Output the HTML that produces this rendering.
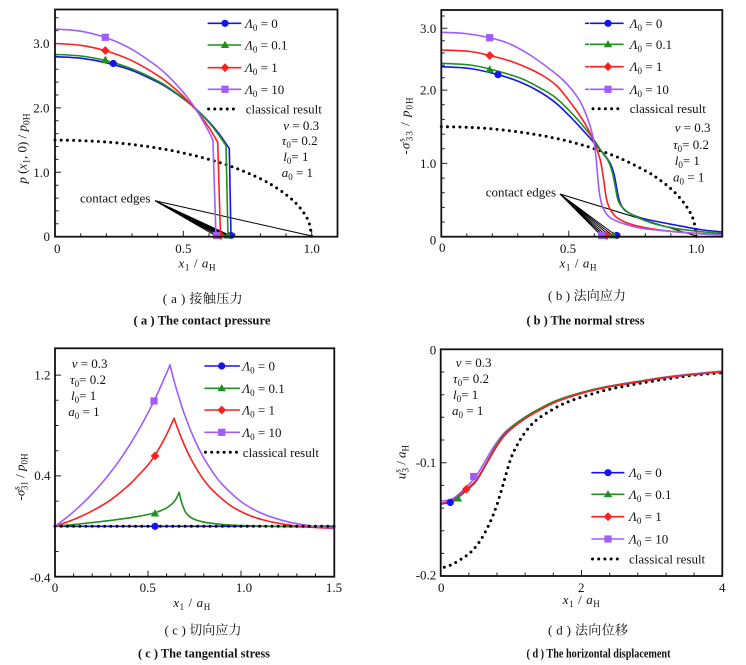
<!DOCTYPE html>
<html><head><meta charset="utf-8"><style>
html,body{margin:0;padding:0;background:#fff;}
svg{display:block;font-family:"Liberation Serif","Noto Serif CJK SC",serif;}
.fr{fill:none;stroke:#111;stroke-width:1.8}
.tk{fill:none;stroke:#222;stroke-width:1}
.s{fill:none;stroke-width:1.6;stroke-linejoin:round;stroke-linecap:round}
.dot{fill:none;stroke:#000;stroke-width:3;stroke-linecap:round;stroke-dasharray:0 6.2}
.ce{stroke:#000;stroke-width:1;fill:none}
text{font-size:13px;fill:#111}
.i{font-style:italic}
</style></head><body>
<svg id="cv" width="746" height="665" viewBox="0 0 746 665" xmlns="http://www.w3.org/2000/svg">
<defs>
<circle id="mc" r="3.6"/>
<polygon id="mt" points="0,-4.2 4.2,3 -4.2,3"/>
<polygon id="md" points="0,-4.4 4.4,0 0,4.4 -4.4,0"/>
<rect id="ms" x="-3.6" y="-3.6" width="7.2" height="7.2"/>
</defs>

<!-- ================= PANEL A ================= -->
<g>
<path class="tk" d="M55 236.7v-6M80.67 236.7v-3.5M106.33 236.7v-3.5M132 236.7v-3.5M157.67 236.7v-3.5M183.35 236.7v-6M209 236.7v-3.5M234.7 236.7v-3.5M260.4 236.7v-3.5M286 236.7v-3.5M311.7 236.7v-6
M55 236.7h6M55 172.3h6M55 107.9h6M55 43.5h6
M55 223.8h3.5M55 210.9h3.5M55 198.1h3.5M55 185.2h3.5M55 159.4h3.5M55 146.5h3.5M55 133.7h3.5M55 120.8h3.5M55 95h3.5M55 82.1h3.5M55 69.2h3.5M55 56.4h3.5M55 30.6h3.5M55 17.7h3.5"/>
<polyline class="dot sm" points="55,140.1 80.7,140.6 106.3,142 132,144.5 157.7,148.1 183.4,153 209,159.4 234.7,167.7 260.4,178.7 273.2,185.8 286,194.6 296.3,203.7 304,213.2 309.1,223 311.7,236.7"/>
<path class="ce" d="M155 200.7L216 236M155 200.7L219 236M155 200.7L222 236M155 200.7L225 236M155 200.7L228 236M155 200.7L231 236M155 200.7L311.7 236"/>
<polyline class="s sm" stroke="#1414f0" points="55,56.7 80.7,58.2 106.3,62.8 132,70.5 157.7,82.2 170.5,89.7 183.4,98.7 196.2,109.2 209,121.9 219.3,134.1 229.3,148.6"/>
<polyline class="s" stroke="#1414f0" points="229.3,148.6 231,236.7"/>
<polyline class="s sm" stroke="#1f8f1f" points="55,54.4 80.7,56 106.3,60.7 132,68.9 157.7,81 170.5,88.9 183.4,98.2 196.2,109.3 209,122.6 218,133.9 226,145.6"/>
<polyline class="s" stroke="#1f8f1f" points="226,145.6 228,236.7"/>
<polyline class="s sm" stroke="#ff1f1f" points="55,43.5 80.7,45.3 106.3,51 132,60.7 157.7,75.4 170.5,85 183.4,96.4 196.2,110.3 209,127.6 217.7,142.2"/>
<polyline class="s" stroke="#ff1f1f" points="217.7,142.2 220.5,236.7"/>
<polyline class="s sm" stroke="#a05cff" points="55,29 80.7,31.2 106.3,37.8 132,49.4 157.7,66.9 170.5,78.4 183.4,92.4 196.2,109.7 209,131.9 212.9,140"/>
<polyline class="s" stroke="#a05cff" points="212.9,140 216,236.7"/>
<use href="#mc" x="113.3" y="63.5" fill="#1414f0"/>
<use href="#mt" x="105.3" y="60" fill="#1f8f1f"/>
<use href="#md" x="105.3" y="50.5" fill="#ff1f1f"/>
<use href="#ms" x="105.3" y="37.3" fill="#a05cff"/>
<use href="#mc" x="231" y="235.5" fill="#1414f0"/>
<use href="#mt" x="228" y="235.5" fill="#1f8f1f"/>
<use href="#md" x="220.7" y="235.5" fill="#ff1f1f"/>
<use href="#ms" x="216.5" y="235.5" fill="#a05cff"/>
<rect class="fr" x="55" y="9.5" width="282.5" height="227.2"/>
<path class="s" stroke="#1414f0" d="M208.3 23.3H240.7"/><use href="#mc" x="225" y="23.3" fill="#1414f0"/>
<path class="s" stroke="#1f8f1f" d="M208.3 45H240.7"/><use href="#mt" x="225" y="45" fill="#1f8f1f"/>
<path class="s" stroke="#ff1f1f" d="M208.3 67.7H240.7"/><use href="#md" x="225" y="67.7" fill="#ff1f1f"/>
<path class="s" stroke="#a05cff" d="M208.3 89.3H240.7"/><use href="#ms" x="225" y="89.3" fill="#a05cff"/>
<path class="dot" d="M208.6 109H239"/>
<text x="245" y="27.8"><tspan class="i">Λ</tspan><tspan font-size="9" dy="3">0</tspan><tspan dy="-3"> = 0</tspan></text>
<text x="245" y="49.5"><tspan class="i">Λ</tspan><tspan font-size="9" dy="3">0</tspan><tspan dy="-3"> = 0.1</tspan></text>
<text x="245" y="72.2"><tspan class="i">Λ</tspan><tspan font-size="9" dy="3">0</tspan><tspan dy="-3"> = 1</tspan></text>
<text x="245" y="93.8"><tspan class="i">Λ</tspan><tspan font-size="9" dy="3">0</tspan><tspan dy="-3"> = 10</tspan></text>
<text x="245.7" y="113.5">classical result</text>
<text x="283.3" y="130"><tspan class="i">ν</tspan> = 0.3</text>
<text x="281.7" y="145"><tspan class="i">τ</tspan><tspan font-size="9" dy="3">0</tspan><tspan dy="-3">= 0.2</tspan></text>
<text x="283.3" y="161"><tspan class="i">l</tspan><tspan font-size="9" dy="3">0</tspan><tspan dy="-3">= 1</tspan></text>
<text x="281.7" y="177"><tspan class="i">a</tspan><tspan font-size="9" dy="3">0</tspan><tspan dy="-3"> = 1</tspan></text>
<text x="80" y="202.5">contact edges</text>
<g text-anchor="end"><text x="49.5" y="47.8">3.0</text><text x="49.5" y="112.4">2.0</text><text x="49.5" y="176.8">1.0</text><text x="50" y="241">0</text></g>
<g text-anchor="middle"><text x="57.3" y="252.8">0</text><text x="183.4" y="252.8">0.5</text><text x="311.7" y="252.8">1.0</text></g>
<text x="197" y="267.5" text-anchor="middle" textLength="37"><tspan class="i">x</tspan><tspan font-size="9" dy="3">1</tspan><tspan dy="-3"> / </tspan><tspan class="i">a</tspan><tspan font-size="9" dy="3">H</tspan></text>
<text transform="translate(22,148.5) rotate(-90)" x="0" y="4.5" text-anchor="middle" font-size="14"><tspan class="i">p</tspan> (<tspan class="i">x</tspan><tspan font-size="9.5" dy="3">1</tspan><tspan dy="-3">, 0)  /  </tspan><tspan class="i">p</tspan><tspan font-size="9.5" dy="3">0H</tspan></text>
<text x="202.7" y="303" text-anchor="middle" font-size="13.5" textLength="80" lengthAdjust="spacing">( a ) 接触压力</text>
<text x="202" y="324.5" text-anchor="middle" font-size="11" font-weight="bold" textLength="137" lengthAdjust="spacingAndGlyphs">( a ) The contact pressure</text>
</g>

<!-- ================= PANEL B ================= -->
<g>
<path class="tk" d="M441.3 236.7v-6M466.8 236.7v-3.5M492.3 236.7v-3.5M517.8 236.7v-3.5M543.3 236.7v-3.5M568.8 236.7v-6M594.3 236.7v-3.5M619.8 236.7v-3.5M645.3 236.7v-3.5M670.8 236.7v-3.5M696.3 236.7v-6
M441.3 236.7h6M441.3 163.4h6M441.3 90.1h6M441.3 28.3h6
M441.3 222h3.5M441.3 207.4h3.5M441.3 192.7h3.5M441.3 178.1h3.5M441.3 148.7h3.5M441.3 134.1h3.5M441.3 119.4h3.5M441.3 104.8h3.5M441.3 77.7h3.5M441.3 65.3h3.5M441.3 53h3.5M441.3 40.7h3.5M441.3 16h3.5"/>
<polyline class="dot sm" points="441.3,126.7 466.8,127.25 492.3,128.9 517.8,131.8 543.3,135.9 568.8,141.4 594.3,148.7 619.8,158.2 645.3,170.7 658.1,178.7 670.8,188.7 681,199.2 688.7,210 693.8,221.2 696.3,236.7"/>
<path class="ce" d="M560 194L601.7 236M560 194L604 236M560 194L606.7 236M560 194L610 236M560 194L613.3 236M560 194L616.7 236M560 194L696.3 236"/>
<polyline class="s sm" stroke="#1414f0" points="441.3,66.7 470,68.5 498,74.7 520,82 540,92 557,104 575,121.7 591.7,140 603,153 610,163 614,174 616.7,188 619.5,201 624,209.5 632,214.5 645,219 675,225 700,229.5 722.3,232"/>
<polyline class="s sm" stroke="#1f8f1f" points="441.3,63.3 470,65 489.7,69 520,78 540,88 556,98 575,116.7 591.7,136.7 601.7,151.7 608.5,161.5 612.5,173 615.5,188 618,200 622.5,207.5 631.7,214.5 651.7,223 675,228.3 700,231.5 722.3,233.5"/>
<polyline class="s sm" stroke="#ff1f1f" points="441.3,50 470,51.5 489.7,55.5 510,61 530,69 545,77 557,86 567,98 576,110 584,122 591,135 596,147 600,159 602.5,172 604.5,186 606.3,198 609.5,208 616.7,217.5 631.7,224.5 655,229.3 675,231.7 700,233.5 722.3,234.5"/>
<polyline class="s sm" stroke="#a05cff" points="441.3,32.3 465,33.5 489.7,37.7 510,44 530,55 549.7,69 563,80 573,91 581,103 587,117 591,129 594,142 596,157 597.7,176.7 600,196.7 603.5,209 610,217.5 621.7,223 641.7,228.3 675,231.7 700,233.8 722.3,235"/>
<use href="#mc" x="498" y="74.7" fill="#1414f0"/>
<use href="#mt" x="489.7" y="69.5" fill="#1f8f1f"/>
<use href="#md" x="489.7" y="55.5" fill="#ff1f1f"/>
<use href="#ms" x="489.7" y="37.7" fill="#a05cff"/>
<use href="#mc" x="616.7" y="235.5" fill="#1414f0"/>
<use href="#mt" x="613.3" y="235.5" fill="#1f8f1f"/>
<use href="#md" x="606.7" y="235.5" fill="#ff1f1f"/>
<use href="#ms" x="601.7" y="235.5" fill="#a05cff"/>
<rect class="fr" x="441.3" y="10" width="281" height="226.7"/>
<path class="s" stroke="#1414f0" d="M585.7 23.3H588.5M590.5 23.3H623"/><use href="#mc" x="608" y="23.3" fill="#1414f0"/>
<path class="s" stroke="#1f8f1f" d="M585.7 44.3H588.5M590.5 44.3H623"/><use href="#mt" x="608" y="44.3" fill="#1f8f1f"/>
<path class="s" stroke="#ff1f1f" d="M585.7 66.7H588.5M590.5 66.7H623"/><use href="#md" x="608" y="66.7" fill="#ff1f1f"/>
<path class="s" stroke="#a05cff" d="M585.7 89.3H588.5M590.5 89.3H623"/><use href="#ms" x="608" y="89.3" fill="#a05cff"/>
<path class="dot" d="M593 108.7H623"/>
<text x="629.7" y="27.8"><tspan class="i">Λ</tspan><tspan font-size="9" dy="3">0</tspan><tspan dy="-3"> = 0</tspan></text>
<text x="629.7" y="48.8"><tspan class="i">Λ</tspan><tspan font-size="9" dy="3">0</tspan><tspan dy="-3"> = 0.1</tspan></text>
<text x="629.7" y="71.2"><tspan class="i">Λ</tspan><tspan font-size="9" dy="3">0</tspan><tspan dy="-3"> = 1</tspan></text>
<text x="629.7" y="93.8"><tspan class="i">Λ</tspan><tspan font-size="9" dy="3">0</tspan><tspan dy="-3"> = 10</tspan></text>
<text x="629.7" y="113.2">classical result</text>
<text x="674.7" y="132"><tspan class="i">ν</tspan> = 0.3</text>
<text x="673" y="149"><tspan class="i">τ</tspan><tspan font-size="9" dy="3">0</tspan><tspan dy="-3">= 0.2</tspan></text>
<text x="674.7" y="165"><tspan class="i">l</tspan><tspan font-size="9" dy="3">0</tspan><tspan dy="-3">= 1</tspan></text>
<text x="673" y="181.5"><tspan class="i">a</tspan><tspan font-size="9" dy="3">0</tspan><tspan dy="-3"> = 1</tspan></text>
<text x="485.7" y="196.5">contact edges</text>
<g text-anchor="end"><text x="436.3" y="32.8">3.0</text><text x="436.3" y="94.5">2.0</text><text x="436.3" y="167.8">1.0</text><text x="436.3" y="244.5">0</text></g>
<g text-anchor="middle"><text x="442.3" y="252">0</text><text x="568" y="252.8">0.5</text><text x="696.3" y="252.8">1.0</text></g>
<text x="578" y="267.5" text-anchor="middle" textLength="37"><tspan class="i">x</tspan><tspan font-size="9" dy="3">1</tspan><tspan dy="-3"> / </tspan><tspan class="i">a</tspan><tspan font-size="9" dy="3">H</tspan></text>
<text transform="translate(405,126) rotate(-90)" x="0" y="4.5" text-anchor="middle" textLength="57" lengthAdjust="spacing">-<tspan class="i">σ</tspan><tspan font-size="9" dy="-5">s</tspan><tspan font-size="9" dx="-4" dy="8">33</tspan><tspan dy="-3"> / </tspan><tspan class="i">p</tspan><tspan font-size="9" dy="3">0H</tspan></text>
<text x="587" y="300" text-anchor="middle" font-size="13.5" textLength="78" lengthAdjust="spacing">( b ) 法向应力</text>
<text x="585.5" y="324.5" text-anchor="middle" font-size="11" font-weight="bold" textLength="118" lengthAdjust="spacingAndGlyphs">( b ) The normal stress</text>
</g>

<!-- ================= PANEL C ================= -->
<g>
<path class="tk" d="M55 576.7v-6M73.6 576.7v-3.5M92.2 576.7v-3.5M110.8 576.7v-3.5M129.4 576.7v-3.5M148 576.7v-6M166.6 576.7v-3.5M185.2 576.7v-3.5M203.8 576.7v-3.5M222.4 576.7v-3.5M241 576.7v-6M259.6 576.7v-3.5M278.2 576.7v-3.5M296.8 576.7v-3.5M315.4 576.7v-3.5
M55 576.7h6M55 475.9h6M55 375.1h6M55 551.5h3.5M55 526.3h3.5M55 501.1h3.5M55 450.7h3.5M55 425.5h3.5M55 400.3h3.5"/>
<polyline class="s" stroke="#1414f0" points="55,526.3 334,526.3"/>
<polyline class="s sm" stroke="#1f8f1f" points="55,526.3 73.6,524.5 92.2,522.6 110.8,520.4 129.4,517.9 148,514.5 157.3,512 166.6,507.9 172.2,503.7 175.9,499.2 179.2,492.3"/>
<polyline class="s sm" stroke="#1f8f1f" points="179.2,492.3 181.1,500.5 183.1,506.6 185.7,512.4 189.8,516.7 196,520 206.5,522.6 225.7,524.8 253.6,525.9 290.8,526.7 334,527.3"/>
<polyline class="s sm" stroke="#ff1f1f" points="55,526.3 73.6,519.5 92.2,510.9 110.8,499.8 129.4,484.6 138.7,475 148,465 157.3,451.5 166.6,434.5 174,418.3"/>
<polyline class="s sm" stroke="#ff1f1f" points="174,418.3 177.8,428.6 181.5,438.2 187.1,451.1 192.6,462 201.9,477.2 211.2,488.8 229.8,505.1 248.4,515 267,520.9 285.6,524.5 304.2,526.7 334,528.6"/>
<polyline class="s sm" stroke="#a05cff" points="55,526.3 64.3,519.4 73.6,511.7 82.9,503.2 92.2,493.8 101.5,483.5 110.8,472 120.1,459.4 129.4,445.4 138.7,429.9 148,412.9 157.3,394 166.6,373.1 170,365"/>
<polyline class="s sm" stroke="#a05cff" points="170,365 174,380.6 177.8,393.6 185.2,416.4 194.5,439.5 203.8,458 213.1,472.7 222.4,484.6 241,501.6 259.6,512.4 278.2,519.2 296.8,523.7 315.4,526.4 334,528.2"/>
<polyline class="dot" points="55,526.3 334,526.3"/>
<use href="#mc" x="155" y="526.3" fill="#1414f0"/>
<use href="#mt" x="155" y="513.5" fill="#1f8f1f"/>
<use href="#md" x="155" y="456" fill="#ff1f1f"/>
<use href="#ms" x="154" y="401" fill="#a05cff"/>
<rect class="fr" x="55" y="348.3" width="279.3" height="228.4"/>
<path class="s" stroke="#1414f0" d="M205 366H239.3"/><use href="#mc" x="221.7" y="366" fill="#1414f0"/>
<path class="s" stroke="#1f8f1f" d="M205 388.3H239.3"/><use href="#mt" x="221.7" y="388.3" fill="#1f8f1f"/>
<path class="s" stroke="#ff1f1f" d="M205 410H239.3"/><use href="#md" x="221.7" y="410" fill="#ff1f1f"/>
<path class="s" stroke="#a05cff" d="M205 432.3H239.3"/><use href="#ms" x="221.7" y="432.3" fill="#a05cff"/>
<path class="dot" d="M205.5 452.3H237"/>
<text x="242.3" y="370.5"><tspan class="i">Λ</tspan><tspan font-size="9" dy="3">0</tspan><tspan dy="-3"> = 0</tspan></text>
<text x="242.3" y="392.8"><tspan class="i">Λ</tspan><tspan font-size="9" dy="3">0</tspan><tspan dy="-3"> = 0.1</tspan></text>
<text x="242.3" y="414.5"><tspan class="i">Λ</tspan><tspan font-size="9" dy="3">0</tspan><tspan dy="-3"> = 1</tspan></text>
<text x="242.3" y="436.8"><tspan class="i">Λ</tspan><tspan font-size="9" dy="3">0</tspan><tspan dy="-3"> = 10</tspan></text>
<text x="242.8" y="456.8">classical result</text>
<text x="71.7" y="368"><tspan class="i">ν</tspan> = 0.3</text>
<text x="70" y="384"><tspan class="i">τ</tspan><tspan font-size="9" dy="3">0</tspan><tspan dy="-3">= 0.2</tspan></text>
<text x="71" y="400"><tspan class="i">l</tspan><tspan font-size="9" dy="3">0</tspan><tspan dy="-3">= 1</tspan></text>
<text x="68.3" y="416"><tspan class="i">a</tspan><tspan font-size="9" dy="3">0</tspan><tspan dy="-3"> = 1</tspan></text>
<g text-anchor="end"><text x="50.5" y="379.5">1.2</text><text x="50.5" y="480.2">0.4</text><text x="50.5" y="582">-0.4</text></g>
<g text-anchor="middle"><text x="55" y="591.8">0</text><text x="147.7" y="591.8">0.5</text><text x="244" y="591.8">1.0</text><text x="334" y="591.8">1.5</text></g>
<text x="191.7" y="607" text-anchor="middle" textLength="37"><tspan class="i">x</tspan><tspan font-size="9" dy="3">1</tspan><tspan dy="-3"> / </tspan><tspan class="i">a</tspan><tspan font-size="9" dy="3">H</tspan></text>
<text transform="translate(20,477) rotate(-90)" x="0" y="4.5" text-anchor="middle">-<tspan class="i">σ</tspan><tspan font-size="9" dy="-5">s</tspan><tspan font-size="9" dx="-4" dy="8">31</tspan><tspan dy="-3"> / </tspan><tspan class="i">p</tspan><tspan font-size="9" dy="3">0H</tspan></text>
<text x="203" y="634.5" text-anchor="middle" font-size="13.5" textLength="77" lengthAdjust="spacing">( c ) 切向应力</text>
<text x="204" y="657.5" text-anchor="middle" font-size="11" font-weight="bold" textLength="132" lengthAdjust="spacingAndGlyphs">( c ) The tangential stress</text>
</g>

<!-- ================= PANEL D ================= -->
<g>
<path class="tk" d="M440.7 576v-6M468.9 576v-3.5M497 576v-3.5M525.2 576v-3.5M553.3 576v-3.5M581.5 576v-6M609.7 576v-3.5M637.8 576v-3.5M666 576v-3.5M694.1 576v-3.5
M440.7 462.7h6M440.7 372h3.5M440.7 394.7h3.5M440.7 417.3h3.5M440.7 440h3.5M440.7 485.4h3.5M440.7 508.1h3.5M440.7 530.7h3.5M440.7 553.4h3.5"/>
<polyline class="dot sm" points="444.3,567.3 452,564.5 459.7,560 466,556 473,550 480,541 486.3,530 491.5,519 496.3,506.7 501.5,490 506.3,473.3 511,458 516.3,446.7 522.5,436 529.7,426.7 537,419.5 546.3,413.3 559,406 573,400 590,394.5 606.3,390 623,386.5 639.7,383.3 660,380 680,377 700,374.5 722.3,372.7"/>
<polyline class="s sm" stroke="#a05cff" points="441.3,501 453,498.5 466.3,487 476.3,476 486.3,459 496.3,443 506.3,431 523,418.5 539.7,409 556.3,401 581.3,392.8 606.3,386.8 639.7,381 673,376 722.3,371"/>
<polyline class="s sm" stroke="#1414f0" points="441.3,504 453,501 466.3,490.5 476.3,481 486.3,464 496.3,447 506.3,433.5 523,420 539.7,410 556.3,401.7 581.3,393.3 606.3,387.3 639.7,381.7 673,376.7 722.3,371.7"/>
<polyline class="s sm" stroke="#1f8f1f" points="441.3,503.5 453,500.5 466.3,490 476.3,480.5 486.3,463 496.3,445.5 506.3,431.8 523,418.5 539.7,408.6 556.3,400.5 581.3,392.5 606.3,386.7 639.7,381.3 673,376.5 722.3,371.7"/>
<polyline class="s sm" stroke="#ff1f1f" points="441.3,503.3 453,500 466.3,489.3 476.3,480 486.3,463.3 496.3,446.7 506.3,433.3 523,420 539.7,410 556.3,401.7 581.3,393.3 606.3,387.3 639.7,381.7 673,376.7 722.3,371.7"/>
<use href="#mc" x="450.3" y="502.5" fill="#1414f0"/>
<use href="#mt" x="458" y="498.5" fill="#1f8f1f"/>
<use href="#md" x="466.3" y="489.3" fill="#ff1f1f"/>
<use href="#ms" x="473.7" y="476.5" fill="#a05cff"/>
<rect class="fr" x="440.7" y="349.3" width="281.6" height="226.7"/>
<path class="s" stroke="#1414f0" d="M592 472.7H623.7"/><use href="#mc" x="608" y="472.7" fill="#1414f0"/>
<path class="s" stroke="#1f8f1f" d="M592 494.3H623.7"/><use href="#mt" x="608" y="494.3" fill="#1f8f1f"/>
<path class="s" stroke="#ff1f1f" d="M592 516.7H623.7"/><use href="#md" x="608" y="516.7" fill="#ff1f1f"/>
<path class="s" stroke="#a05cff" d="M592 539H623.7"/><use href="#ms" x="608" y="539" fill="#a05cff"/>
<path class="dot" d="M592.5 559H621"/>
<text x="629" y="477.2"><tspan class="i">Λ</tspan><tspan font-size="9" dy="3">0</tspan><tspan dy="-3"> = 0</tspan></text>
<text x="629" y="498.8"><tspan class="i">Λ</tspan><tspan font-size="9" dy="3">0</tspan><tspan dy="-3"> = 0.1</tspan></text>
<text x="629" y="521.2"><tspan class="i">Λ</tspan><tspan font-size="9" dy="3">0</tspan><tspan dy="-3"> = 1</tspan></text>
<text x="629" y="543.5"><tspan class="i">Λ</tspan><tspan font-size="9" dy="3">0</tspan><tspan dy="-3"> = 10</tspan></text>
<text x="629" y="563.5">classical result</text>
<text x="455.7" y="367"><tspan class="i">ν</tspan> = 0.3</text>
<text x="453" y="383"><tspan class="i">τ</tspan><tspan font-size="9" dy="3">0</tspan><tspan dy="-3">= 0.2</tspan></text>
<text x="453" y="399"><tspan class="i">l</tspan><tspan font-size="9" dy="3">0</tspan><tspan dy="-3">= 1</tspan></text>
<text x="452" y="415"><tspan class="i">a</tspan><tspan font-size="9" dy="3">0</tspan><tspan dy="-3"> = 1</tspan></text>
<g text-anchor="end"><text x="436.3" y="354.5">0</text><text x="436.3" y="467.2">-0.1</text><text x="436.3" y="579.5">-0.2</text></g>
<g text-anchor="middle"><text x="441.3" y="591.8">0</text><text x="581.3" y="591.8">2</text><text x="722.3" y="591.8">4</text></g>
<text x="581.3" y="604" text-anchor="middle" textLength="37"><tspan class="i">x</tspan><tspan font-size="9" dy="3">1</tspan><tspan dy="-3"> / </tspan><tspan class="i">a</tspan><tspan font-size="9" dy="3">H</tspan></text>
<text transform="translate(401,462) rotate(-90)" x="0" y="4.5" text-anchor="middle"><tspan class="i">u</tspan><tspan font-size="9" dy="-5">s</tspan><tspan font-size="9" dx="-3.5" dy="8">3</tspan><tspan dy="-3"> / </tspan><tspan class="i">a</tspan><tspan font-size="9" dy="3">H</tspan></text>
<text x="588" y="634.5" text-anchor="middle" font-size="13.5" textLength="80" lengthAdjust="spacing">( d ) 法向位移</text>
<text x="598.5" y="657.5" text-anchor="middle" font-size="11" font-weight="bold" textLength="144" lengthAdjust="spacingAndGlyphs">( d ) The horizontal displacement</text>
</g>
</svg>
<script>
(function(){
  var ns="http://www.w3.org/2000/svg";
  var list=document.querySelectorAll("polyline.sm");
  for(var k=0;k<list.length;k++){
    var pl=list[k];
    var pts=pl.getAttribute("points").trim().split(/\s+/).map(function(p){return p.split(",").map(Number);});
    if(pts.length<3) continue;
    var d="M"+pts[0][0]+" "+pts[0][1];
    for(var i=0;i<pts.length-1;i++){
      var p0=pts[i-1]||pts[i],p1=pts[i],p2=pts[i+1],p3=pts[i+2]||pts[i+1];
      var c1x=p1[0]+(p2[0]-p0[0])/6,c1y=p1[1]+(p2[1]-p0[1])/6;
      var c2x=p2[0]-(p3[0]-p1[0])/6,c2y=p2[1]-(p3[1]-p1[1])/6;
      d+="C"+c1x.toFixed(2)+" "+c1y.toFixed(2)+" "+c2x.toFixed(2)+" "+c2y.toFixed(2)+" "+p2[0]+" "+p2[1];
    }
    var path=document.createElementNS(ns,"path");
    for(var a=0;a<pl.attributes.length;a++){
      var at=pl.attributes[a];
      if(at.name!=="points") path.setAttribute(at.name,at.value);
    }
    path.setAttribute("d",d);
    pl.parentNode.replaceChild(path,pl);
  }
})();
</script>
</body></html>
